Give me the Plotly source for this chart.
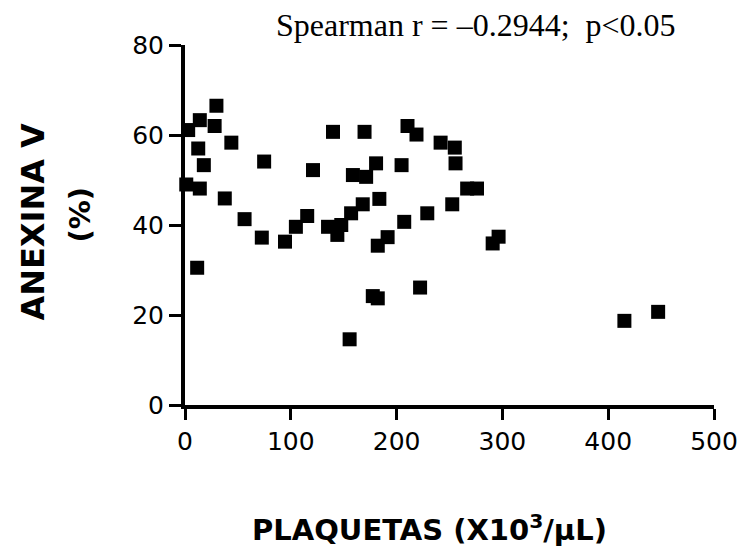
import plotly.graph_objects as go

plaquetas = [29.7, 14, 28, 3, 43.8, 12.5, 17.8, 74.8, 1.2, 14, 37.6, 56.3, 72.6, 94.5,
             104.8, 115.5, 11.5, 121, 139.9, 169.7, 210.3, 218.8, 241.6, 255, 180.6,
             158.7, 171.2, 204.7, 255.7, 266.7, 276, 183.7, 168, 157, 252.6, 229,
             207.2, 135.2, 147.7, 144, 191.5, 182.2, 296.4, 290.8, 177.5, 182.2,
             222.2, 155.6, 415.3, 447.2]
anexina = [66.5, 63.3, 62, 61.1, 58.3, 57, 53.3, 54.1, 49, 48.1, 45.9, 41.3, 37.2, 36.3,
           39.6, 42, 30.5, 52.2, 60.7, 60.7, 62, 60.1, 58.3, 57.2, 53.7,
           51.1, 50.7, 53.3, 53.7, 48.1, 48.1, 45.8, 44.6, 42.6, 44.6, 42.6,
           40.7, 39.6, 40, 37.8, 37.3, 35.4, 37.4, 35.9, 24.2, 23.7,
           26.1, 14.6, 18.7, 20.7]

x_ticks = [0, 100, 200, 300, 400, 500]
y_ticks = [0, 20, 40, 60, 80]

fig = go.Figure()
fig.add_trace(go.Scatter(
    x=plaquetas, y=anexina, mode="markers",
    marker=dict(symbol="square", size=14, color="black", line=dict(width=0)),
    cliponaxis=False, showlegend=False))

axis_font = dict(family="DejaVu Sans, sans-serif", size=25, color="black")
fig.update_xaxes(range=[0, 500], tickvals=x_ticks, showgrid=False, zeroline=False,
                 showline=True, linecolor="black", linewidth=4,
                 ticks="outside", ticklen=11, tickwidth=3, tickcolor="black",
                 tickfont=axis_font)
fig.update_yaxes(range=[0, 80], tickvals=y_ticks, showgrid=False, zeroline=False,
                 showline=True, linecolor="black", linewidth=4,
                 ticks="outside", ticklen=12, tickwidth=3, tickcolor="black",
                 tickfont=axis_font)

fig.add_annotation(text="<b>PLAQUETAS (X10<sup>3</sup>/μL)</b>", xref="paper", yref="paper",
                   x=0.462, y=-0.342, xanchor="center", yanchor="middle",
                   showarrow=False,
                   font=dict(family="DejaVu Sans, sans-serif", size=29, color="black"))
fig.add_annotation(text="<b>ANEXINA V</b>", xref="paper", yref="paper",
                   x=-0.287, y=0.51, xanchor="center", yanchor="middle", textangle=-90,
                   showarrow=False,
                   font=dict(family="DejaVu Sans, sans-serif", size=32, color="black"))
fig.add_annotation(text="<b>(%)</b>", xref="paper", yref="paper",
                   x=-0.198, y=0.53, xanchor="center", yanchor="middle", textangle=-90,
                   showarrow=False,
                   font=dict(family="DejaVu Sans, sans-serif", size=29, color="black"))
fig.add_annotation(text="Spearman r = –0.2944;  p<0.05", xref="paper", yref="paper",
                   x=0.551, y=1.055, xanchor="center", yanchor="middle",
                   showarrow=False,
                   font=dict(family="Liberation Serif, Times New Roman, serif", size=32, color="black"))

fig.update_layout(width=750, height=553, paper_bgcolor="white", plot_bgcolor="white",
                  margin=dict(l=185, r=32, t=45, b=148))
fig.write_html("out.html")
